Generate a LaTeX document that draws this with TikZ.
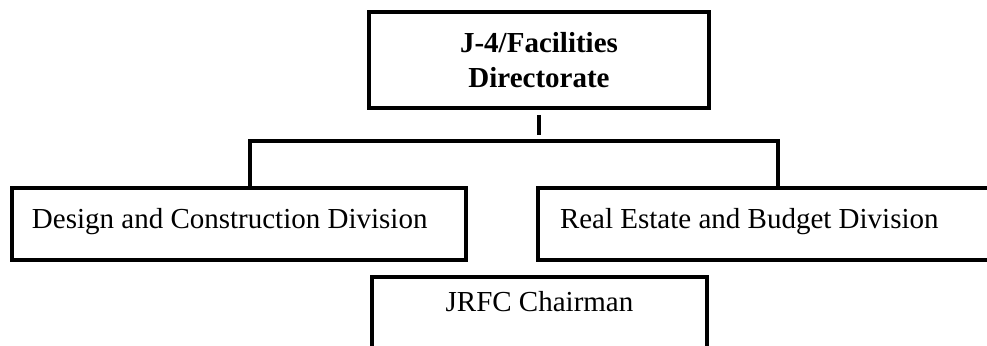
\documentclass[tikz,border=0pt]{standalone}
\usepackage{fontspec}
\setmainfont{Liberation Serif}
\usepackage{tikz}

\tikzset{
  unit/.style={draw, line width=2pt, inner sep=0pt, outer sep=0pt,
    font=\fontsize{14.5}{17.5}\selectfont},
  link/.style={line width=2pt},
}

\begin{document}
\begin{tikzpicture}[x=0.5pt, y=-0.5pt]
  \useasboundingbox (0,0) rectangle (987,346);
  \clip (0,0) rectangle (987,346);

  \node[unit, align=center, font=\fontsize{14.5}{17.5}\selectfont\bfseries,
    minimum width=170pt, minimum height=48pt] (dir) at (539,60)
  {J-4/Facilities\\Directorate};

  \node[unit, anchor=north west, text width=207pt, align=flush left, inner xsep=10pt,
    minimum height=36pt, text height=10pt, text depth=5pt] (dcd) at (12,188)
  {Design and Construction Division};
  \node[unit, anchor=north west, text width=218pt, align=flush left, inner xsep=11pt,
    minimum height=36pt, text height=10pt, text depth=5pt] (reb) at (538,188)
  {Real Estate and Budget Division};

  \node[unit, anchor=north, minimum width=167.5pt, inner ysep=7.5pt,
    text height=10pt, text depth=30pt] (jrfc) at (539.5,277)
  {JRFC Chairman};

  \coordinate (split) at (539,141);
  \coordinate (dropL) at (250,141);
  \coordinate (dropR) at (778,141);

  \draw[link] ([yshift=-3.5pt]dir.south) -- ([yshift=3pt]split);
  \draw[link] (dcd.north -| dropL) -- (dropL) -- (dropR) -- (reb.north -| dropR);

\end{tikzpicture}
\end{document}
